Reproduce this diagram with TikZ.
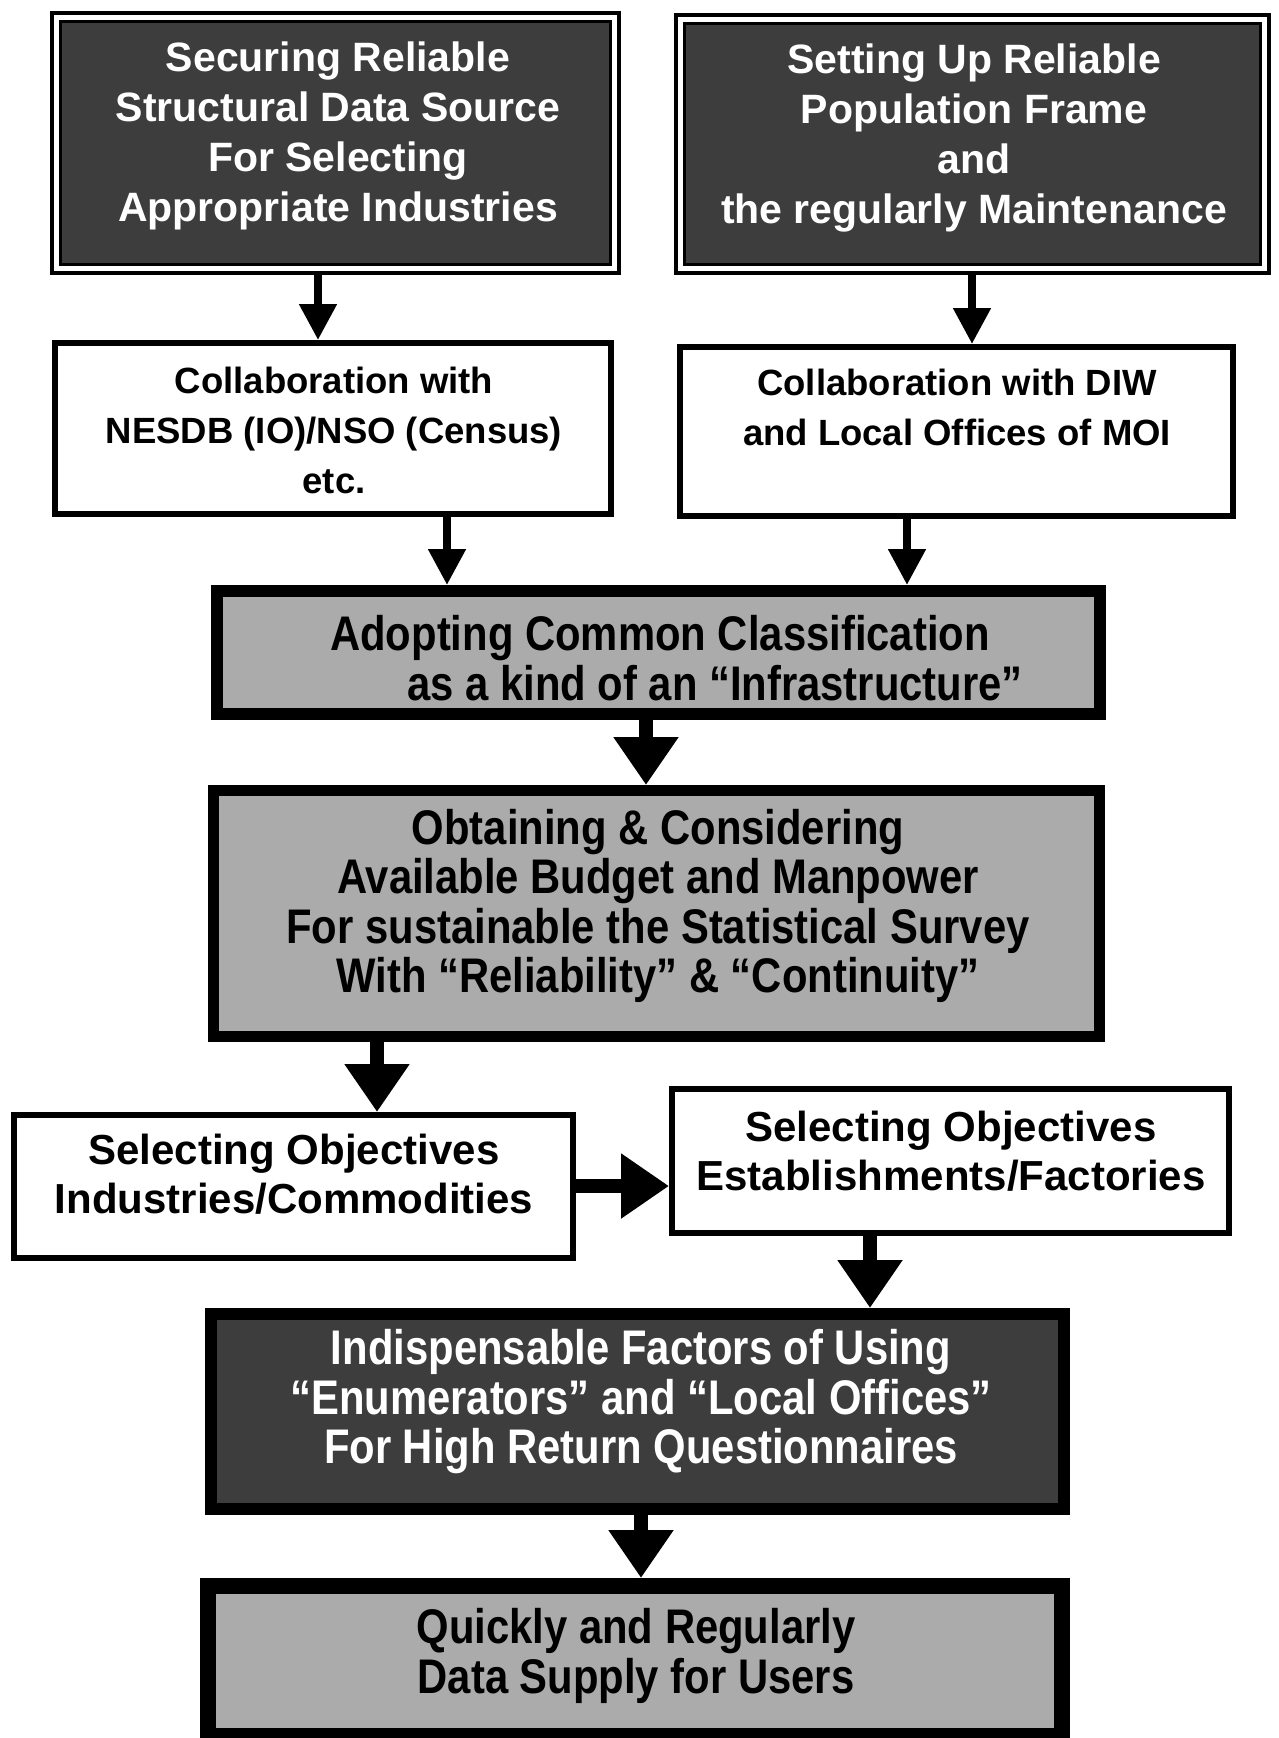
\documentclass[tikz,border=0pt]{standalone}
\usepackage{fontspec}
\setmainfont{Liberation Sans}
\newfontfamily\narrowfont[FakeStretch=0.86]{Liberation Sans}
\usetikzlibrary{arrows.meta}
\definecolor{darkfill}{HTML}{3D3D3D}
\definecolor{grayfill}{HTML}{ABABAB}
\begin{document}
\begin{tikzpicture}[x=1pt,y=-1pt,
  outerframe/.style={draw=black, line width=4pt, fill=white, inner sep=0pt},
  innerdark/.style={draw=black, line width=3pt, fill=darkfill, inner sep=0pt},
  whitebox/.style={draw=black, line width=6pt, fill=white, inner sep=0pt},
  graybox/.style={draw=black, fill=grayfill, inner sep=0pt},
  darkbox/.style={draw=black, fill=darkfill, inner sep=0pt},
  toptext/.style={text=white, align=center, inner sep=0pt, font=\fontsize{41}{50}\selectfont\bfseries},
  colltext/.style={text=black, align=center, inner sep=0pt, font=\fontsize{36.5}{50}\selectfont\bfseries},
  seltext/.style={text=black, align=center, inner sep=0pt, font=\fontsize{42}{49}\selectfont\bfseries},
  narrowtext/.style={align=center, inner sep=0pt, font=\narrowfont\fontsize{48.6}{49.5}\selectfont\bfseries},
  smallarrow/.style={line width=8pt, -{Triangle[length=36pt,width=36pt]}},
  bigarrow/.style={line width=14pt, -{Triangle[length=48pt,width=62pt]}}
]
\useasboundingbox (0,0) rectangle (1278,1738);
\clip (0,0) rectangle (1278,1738);
\fill[white] (0,0) rectangle (1278,1738);

% ---- top dark boxes with double frame
\node[outerframe, minimum width=567pt, minimum height=260pt] (A) at (335.5,143) {};
\node[innerdark, minimum width=550pt, minimum height=243pt] (Ain) at (A.center) {};
\node[toptext] (tA) at (338,136) {Securing Reliable\\Structural Data Source\\For Selecting\\Appropriate Industries};

\node[outerframe, minimum width=593pt, minimum height=258pt] (B) at (972.5,144) {};
\node[innerdark, minimum width=576pt, minimum height=241pt] (Bin) at (B.center) {};
\node[toptext] (tB) at (974,138) {Setting Up Reliable\\Population Frame\\and\\the regularly Maintenance};

% ---- collaboration boxes
\node[whitebox, minimum width=556pt, minimum height=171pt] (C) at (333,428.5) {};
\node[colltext] (tC) at (334,430) {Collaboration with\\NESDB (IO)/NSO (Census)\\etc.};

\node[whitebox, minimum width=553pt, minimum height=169pt] (D) at (956.5,431.5) {};
\node[colltext] (tD) at (957,407) {Collaboration with DIW\\and Local Offices of MOI};

% ---- classification
\node[graybox, line width=12pt, minimum width=883pt, minimum height=123pt] (E) at (658.5,652.5) {};
\node[narrowtext] (tE) at (660,658) {Adopting Common Classification\\\hspace*{110pt}as a kind of an “Infrastructure”};

% ---- budget
\node[graybox, line width=11pt, minimum width=886pt, minimum height=246pt] (F) at (656.5,913.5) {};
\node[narrowtext] (tF) at (658,906) {Obtaining \& Considering\\Available Budget and Manpower\\For sustainable the Statistical Survey\\With “Reliability” \& “Continuity”};

% ---- selecting objectives
\node[whitebox, minimum width=559pt, minimum height=143pt] (G) at (293.5,1186.5) {};
\node[seltext] (tG) at (294,1174) {Selecting Objectives\\Industries/Commodities};

\node[whitebox, minimum width=557pt, minimum height=144pt] (H) at (950.5,1161) {};
\node[seltext] (tH) at (951,1151) {Selecting Objectives\\Establishments/Factories};

% ---- indispensable factors
\node[darkbox, line width=12pt, minimum width=853pt, minimum height=195pt] (I) at (637.5,1411.5) {};
\node[narrowtext, text=white] (tI) at (641,1402) {Indispensable Factors of Using\\“Enumerators” and “Local Offices”\\For High Return Questionnaires};

% ---- data supply
\node[graybox, line width=16pt, minimum width=854pt, minimum height=150pt] (J) at (635,1661) {};
\node[narrowtext] (tJ) at (636,1656) {Quickly and Regularly\\Data Supply for Users};

% ---- connector positions
\coordinate (xAC) at (318,0);
\coordinate (xBD) at (972,0);
\coordinate (xCE) at (447,0);
\coordinate (xDE) at (907,0);
\coordinate (xEF) at (646,0);
\coordinate (xFG) at (377,0);
\coordinate (yGH) at (0,1186);
\coordinate (xHI) at (870,0);
\coordinate (xIJ) at (641,0);

\draw[smallarrow] (A.south -| xAC) -- (C.north -| xAC);
\draw[smallarrow] (B.south -| xBD) -- (D.north -| xBD);
\draw[smallarrow] (C.south -| xCE) -- (E.north -| xCE);
\draw[smallarrow] (D.south -| xDE) -- (E.north -| xDE);
\draw[bigarrow] (E.south -| xEF) -- (F.north -| xEF);
\draw[bigarrow] (F.south -| xFG) -- (G.north -| xFG);
\draw[bigarrow] (G.east |- yGH) -- (H.west |- yGH);
\draw[bigarrow] (H.south -| xHI) -- (I.north -| xHI);
\draw[bigarrow] (I.south -| xIJ) -- (J.north -| xIJ);
\end{tikzpicture}
\end{document}
